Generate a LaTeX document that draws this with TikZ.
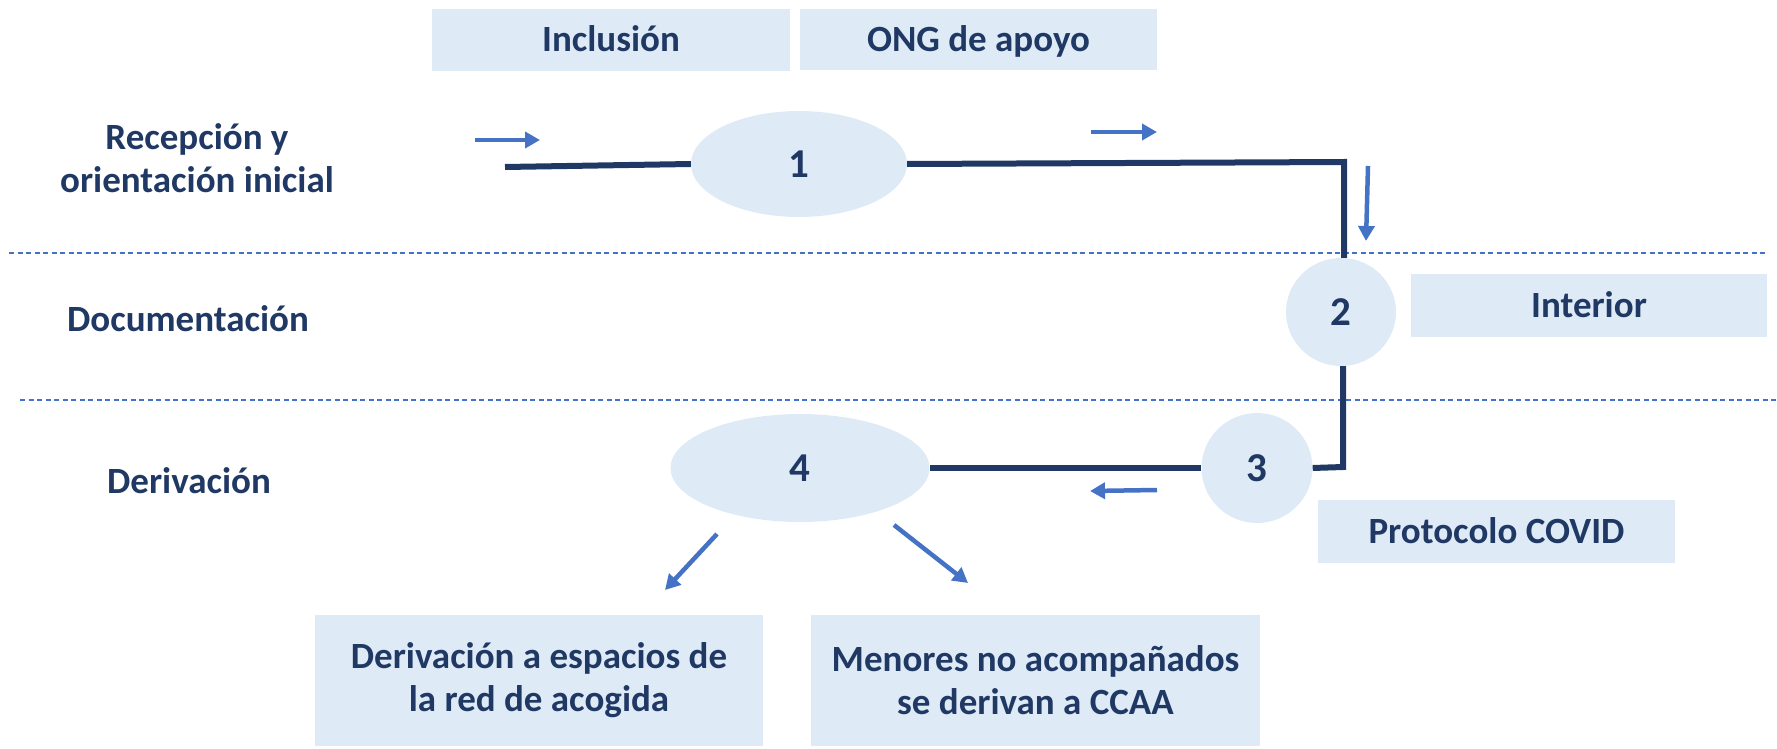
\documentclass[tikz,border=0pt]{standalone}
\usepackage{fontspec}
\setmainfont{Carlito}
\usetikzlibrary{arrows.meta,shapes.geometric}
\definecolor{navy}{HTML}{203864}
\definecolor{lblue}{HTML}{DEEBF7}
\definecolor{ablue}{HTML}{4472C4}
\begin{document}
\begin{tikzpicture}[x=1pt,y=-1pt,
  txt/.style={text=navy,font=\fontsize{37}{43}\selectfont\bfseries,align=center},
  one/.style={text height=23.5pt,text depth=0pt},
  box/.style={txt,fill=lblue,inner sep=0pt},
  stage/.style={txt,font=\fontsize{41}{48}\selectfont\bfseries,text height=26pt,text depth=0pt,ellipse,fill=lblue,inner sep=0pt},
  flow/.style={draw=navy,line width=6pt,line join=miter},
  ar/.style={draw=ablue,line width=4.5pt,-{Triangle[length=15pt,width=16pt]}},
  sep/.style={draw=ablue,line width=1.3pt,dash pattern=on 5pt off 3.5pt}]
\useasboundingbox (0,0) rectangle (1777,749);

% separators
\draw[sep] (9,253) -- (1768,253);
\draw[sep] (20,400) -- (1777,400);

% lane labels
\node[txt] (l1) at (197,158) {Recepción y\\orientación inicial};
\node[txt,one] (l2) at (188,320) {Documentación};
\node[txt,one] (l3) at (189,482) {Derivación};

% boxes
\node[box,one,minimum width=358pt,minimum height=62pt] (inc) at (611,40) {Inclusión};
\node[box,one,minimum width=357pt,minimum height=61pt] (ong) at (978.5,39.5) {ONG de apoyo};
\node[box,one,minimum width=356pt,minimum height=63pt] (int) at (1589,305.5) {Interior};
\node[box,one,minimum width=357pt,minimum height=63pt] (cov) at (1496.5,531.5) {Protocolo COVID};
\node[box,minimum width=448pt,minimum height=131pt] (der) at (539,680.5) {Derivación a espacios de\\la red de acogida};
\node[box,minimum width=449pt,minimum height=131pt] (men) at (1035.5,680.5) {Menores no acompañados\\se derivan a CCAA};

% stages
\node[stage,minimum width=216pt,minimum height=106pt] (s1) at (799,164) {1};
\node[stage,minimum width=110pt,minimum height=108pt] (s2) at (1341,312) {2};
\node[stage,minimum width=111pt,minimum height=110pt] (s3) at (1257,468) {3};
\node[stage,minimum width=259pt,minimum height=108pt] (s4) at (800,468) {4};

% flow lines
\coordinate (start) at (505,167);
\coordinate (c1) at (1344,162);
\coordinate (c2) at (1343,467);
\draw[flow] (start) -- (s1.west);
\draw[flow] (s1.east) -- (c1) -- (c1 |- s2.north);
\draw[flow] (c2 |- s2.south) -- (c2) -- (s3.east);
\draw[flow] (s3.west) -- (s4.east);

% direction arrows
\coordinate (a1s) at (475,140); \coordinate (a1e) at (540,140);
\coordinate (a2s) at (1091,132); \coordinate (a2e) at (1157,132);
\coordinate (a3s) at (1368,166); \coordinate (a3e) at (1366,241);
\coordinate (a4s) at (1157,490); \coordinate (a4e) at (1090,491);
\coordinate (a5s) at (717,534); \coordinate (a5e) at (665,590);
\coordinate (a6s) at (894,525); \coordinate (a6e) at (968,583);
\draw[ar] (a1s) -- (a1e);
\draw[ar] (a2s) -- (a2e);
\draw[ar] (a3s) -- (a3e);
\draw[ar] (a4s) -- (a4e);
\draw[ar] (a5s) -- (a5e);
\draw[ar] (a6s) -- (a6e);
\end{tikzpicture}
\end{document}
